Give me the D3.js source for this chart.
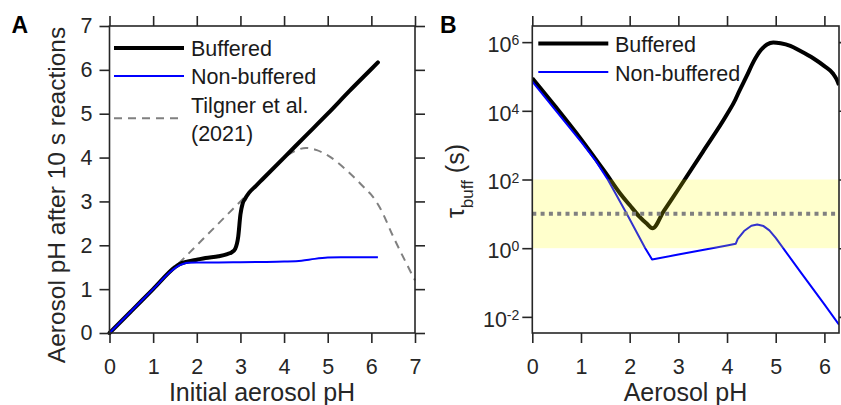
<!DOCTYPE html>
<html><head><meta charset="utf-8">
<script src="https://cdn.jsdelivr.net/npm/d3@7"></script>
<style>
body{margin:0;background:#fff;}
svg{font-family:"Liberation Sans",Arial,Helvetica,sans-serif;}
</style></head><body>
<svg id="c" width="841" height="405"></svg>
<script>
// ---------- Panel A data ----------
const phInitBuf = [0,0.5,1.0,1.5,1.6,1.8,2.0,2.2,2.5,2.7,2.8,2.88,2.95,3.0,3.05,3.1,3.2,3.35,3.5,4.0,4.5,5.0,5.5,6.0,6.15];
const phFinalBuf = [0,0.5,1.0,1.5,1.57,1.63,1.67,1.71,1.75,1.80,1.84,1.92,2.2,2.7,2.95,3.05,3.2,3.35,3.5,4.0,4.5,5.0,5.52,6.02,6.17];
const phInitNon = [0,0.5,1.0,1.4,1.5,1.6,1.7,1.8,2.0,2.5,3.0,3.5,4.0,4.4,4.7,5.0,5.3,6.15];
const phFinalNon = [0,0.5,1.0,1.4,1.48,1.54,1.58,1.60,1.61,1.61,1.615,1.62,1.63,1.65,1.69,1.72,1.73,1.73];
const phInitTilgner = [0,0.5,1.0,1.5,2.0,2.5,3.0,3.5,4.0,4.25,4.5,4.75,5.0,5.5,5.9,6.0,6.2,6.5,7.0];
const phFinalTilgner = [0,0.5,1.0,1.5,2.0,2.5,3.0,3.5,4.0,4.15,4.22,4.17,4.05,3.65,3.25,3.15,2.85,2.2,1.2];
const ticksA = [0,1,2,3,4,5,6,7];

// ---------- Panel B data ----------
const phB_buf = [0,0.5,1.0,1.5,1.8,2.0,2.2,2.35,2.47,2.7,3.0,3.5,4.0,4.17,4.21,4.4,4.55,4.7,4.82,4.95,5.1,5.3,5.5,5.77,6.0,6.18,6.25,6.3];
const tauBuf = [8.9e4,1.2e4,1.5e3,160,40,18,8.3,5.2,3.8,12,52,630,7.9e3,2.1e4,2.8e4,1.0e5,2.8e5,6.0e5,8.5e5,9.8e5,9.3e5,7.8e5,5.6e5,3.4e5,2.0e5,1.2e5,8.3e4,5.6e4];
const phB_non = [0,0.5,1.0,1.3,1.55,1.94,2.32,2.46,3.0,3.5,4.0,4.18,4.22,4.35,4.5,4.62,4.75,4.87,5.0,5.5,6.0,6.3];
const tauNon = [7.1e4,9.5e3,1.26e3,355,100,10,1.0,0.47,0.65,0.89,1.2,1.35,1.86,3.16,4.5,4.9,4.4,3.3,2.0,0.21,0.023,0.0059];
const bandRange = [1,100];
const refTau = 10;
const ticksBx = [0,1,2,3,4,5,6];
const ticksBy = [1e-2,1e0,1e2,1e4,1e6];
const expBy = ["-2","0","2","4","6"];

const svg = d3.select("#c");
const AX = "#262626";
const TF = 21.5, LF = 25;

function frame(g, x, y, xt, yt, yFmt){
  const [x0,x1] = x.range(), [y0,y1] = y.range();
  const mk = (axis, tr) => {
    const a = g.append("g").attr("transform", tr).call(axis);
    a.select(".domain").remove();
    a.selectAll("line").attr("stroke", AX).attr("stroke-width",1.6);
    return a;
  };
  const b = mk(d3.axisBottom(x).tickValues(xt).tickSize(10).tickPadding(16).tickFormat(d3.format("d")), `translate(0,${y0})`);
  b.selectAll("text").attr("font-size",TF).attr("fill",AX).attr("font-family",null);
  mk(d3.axisTop(x).tickValues(xt).tickSize(10).tickFormat(""), `translate(0,${y1})`);
  const l = mk(d3.axisLeft(y).tickValues(yt).tickSize(10).tickPadding(7).tickFormat(yFmt||d3.format("d")), `translate(${x0},0)`);
  l.selectAll("text").attr("font-size",TF).attr("fill",AX).attr("font-family",null);
  mk(d3.axisRight(y).tickValues(yt).tickSize(10).tickFormat(""), `translate(${x1},0)`);
  g.append("rect").attr("x",x0).attr("y",y1).attr("width",x1-x0).attr("height",y0-y1)
    .attr("fill","none").attr("stroke",AX).attr("stroke-width",1.6);
  return l;
}

// ================= Panel A =================
const xA = d3.scaleLinear().domain([0,7]).range([109.5,415]);
const yA = d3.scaleLinear().domain([0,7]).range([333,26]);
const gA = svg.append("g");
const lineA = d3.line().x(d=>xA(d[0])).y(d=>yA(d[1])).curve(d3.curveMonotoneX);
const zip = (a,b)=>a.map((v,i)=>[v,b[i]]);

gA.append("path").datum(zip(phInitTilgner,phFinalTilgner)).attr("d",lineA)
  .attr("fill","none").attr("stroke","#808080").attr("stroke-width",2).attr("stroke-dasharray","8,6");
gA.append("path").datum(zip(phInitBuf,phFinalBuf)).attr("d",lineA)
  .attr("fill","none").attr("stroke","#000").attr("stroke-width",4).attr("stroke-linejoin","round").attr("stroke-linecap","round");
gA.append("path").datum(zip(phInitNon,phFinalNon)).attr("d",lineA)
  .attr("fill","none").attr("stroke","#0000ff").attr("stroke-width",2);
frame(gA, xA, yA, ticksA, ticksA);

// legend A
const legA = gA.append("g");
legA.append("line").attr("x1",114).attr("x2",184).attr("y1",48).attr("y2",48).attr("stroke","#000").attr("stroke-width",4);
legA.append("text").attr("x",191).attr("y",56).attr("font-size",TF).attr("fill","#1a1a1a").text("Buffered");
legA.append("line").attr("x1",114).attr("x2",184).attr("y1",76).attr("y2",76).attr("stroke","#0000ff").attr("stroke-width",2);
legA.append("text").attr("x",191).attr("y",84).attr("font-size",TF).attr("fill","#1a1a1a").text("Non-buffered");
legA.append("line").attr("x1",114).attr("x2",184).attr("y1",118.3).attr("y2",118.3).attr("stroke","#808080").attr("stroke-width",2).attr("stroke-dasharray","8,6");
legA.append("text").attr("x",191).attr("y",113).attr("font-size",TF).attr("fill","#1a1a1a").text("Tilgner et al.");
legA.append("text").attr("x",191).attr("y",140.5).attr("font-size",TF).attr("fill","#1a1a1a").text("(2021)");

gA.append("text").attr("x",262).attr("y",401).attr("text-anchor","middle").attr("font-size",LF).attr("fill",AX).text("Initial aerosol pH");
gA.append("text").attr("transform","translate(65,195) rotate(-90)").attr("text-anchor","middle").attr("font-size",24.5).attr("fill",AX).text("Aerosol pH after 10 s reactions");
gA.append("text").attr("x",11.5).attr("y",33.3).attr("font-size",23).attr("font-weight","bold").attr("fill","#000").text("A");

// ================= Panel B =================
const xB = d3.scaleLinear().domain([0,6.3]).range([532.3,839]);
const yB = d3.scaleLog().domain([3.39e-3,2.95e6]).range([333,26]);
const gB = svg.append("g");
gB.append("clipPath").attr("id","clipB").append("rect")
  .attr("x",532.3).attr("y",26).attr("width",839-532.3).attr("height",307);
const lineB = d3.line().x(d=>xB(d[0])).y(d=>yB(d[1])).curve(d3.curveMonotoneX);
const lineBlin = d3.line().x(d=>xB(d[0])).y(d=>yB(d[1]));
const plotB = gB.append("g").attr("clip-path","url(#clipB)");
plotB.append("path").datum(zip(phB_buf,tauBuf)).attr("d",lineB)
  .attr("fill","none").attr("stroke","#000").attr("stroke-width",4).attr("stroke-linejoin","round");
plotB.append("path").datum(zip(phB_non,tauNon)).attr("d",lineBlin)
  .attr("fill","none").attr("stroke","#0000ff").attr("stroke-width",2).attr("stroke-linejoin","round");
plotB.append("rect").attr("x",xB(0)).attr("width",xB(6.3)-xB(0))
  .attr("y",yB(bandRange[1])).attr("height",yB(bandRange[0])-yB(bandRange[1]))
  .attr("fill","#ffff00").attr("fill-opacity",0.2);
plotB.append("line").attr("x1",xB(0)).attr("x2",xB(6.3)).attr("y1",yB(refTau)).attr("y2",yB(refTau))
  .attr("stroke","#808080").attr("stroke-width",4).attr("stroke-dasharray","4,4.3");

const lB = frame(gB, xB, yB, ticksBx, ticksBy, ()=>"");
lB.selectAll("text").each(function(d,i){
  const t = d3.select(this).attr("dy",null).attr("y",9.4).attr("x",-13).attr("text-anchor","end");
  t.append("tspan").text("10");
  t.append("tspan").attr("font-size",14).attr("dy",-6.7).text(expBy[i]);
});

const legB = gB.append("g");
legB.append("line").attr("x1",538.3).attr("x2",608.3).attr("y1",43.5).attr("y2",43.5).attr("stroke","#000").attr("stroke-width",4);
legB.append("text").attr("x",615).attr("y",52).attr("font-size",TF).attr("fill","#1a1a1a").text("Buffered");
legB.append("line").attr("x1",538.3).attr("x2",608.3).attr("y1",72).attr("y2",72).attr("stroke","#0000ff").attr("stroke-width",2);
legB.append("text").attr("x",615).attr("y",81).attr("font-size",TF).attr("fill","#1a1a1a").text("Non-buffered");

gB.append("text").attr("x",685.5).attr("y",401).attr("text-anchor","middle").attr("font-size",LF).attr("fill",AX).text("Aerosol pH");
const yl = gB.append("text").attr("transform","translate(464,181) rotate(-90)").attr("text-anchor","middle").attr("font-size",LF).attr("fill",AX);
yl.append("tspan").text("τ");
yl.append("tspan").attr("font-size",17).attr("dy",9).text("buff");
yl.append("tspan").attr("dy",-9).text(" (s)");
gB.append("text").attr("x",440).attr("y",33.3).attr("font-size",23).attr("font-weight","bold").attr("fill","#000").text("B");
</script>
</body></html>
